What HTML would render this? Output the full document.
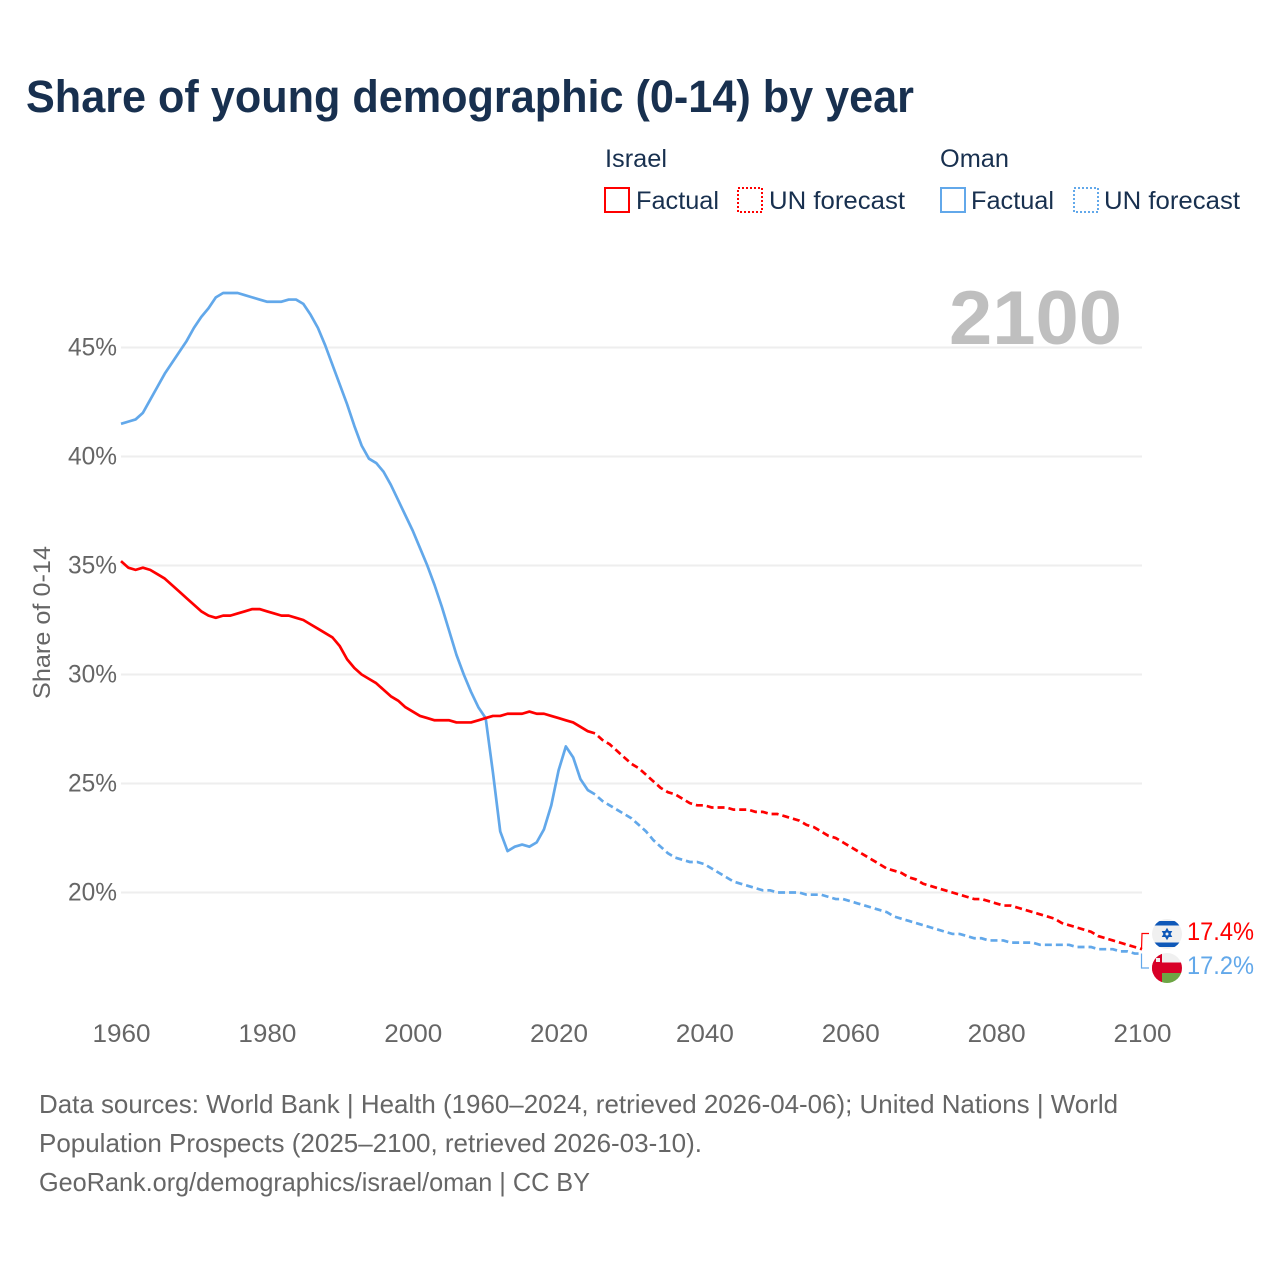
<!DOCTYPE html>
<html lang="en">
<head>
<meta charset="utf-8">
<title>Share of young demographic (0-14) by year</title>
<style>
html,body{margin:0;padding:0;background:#fff}
svg{display:block}
text{font-family:"Liberation Sans",sans-serif}
</style>
</head>
<body>
<svg id="chart" xmlns="http://www.w3.org/2000/svg" width="1280" height="1280" viewBox="0 0 1280 1280">
  <defs>
    <clipPath id="clip-israel"><circle cx="1167" cy="934" r="15"/></clipPath>
    <clipPath id="clip-oman"><circle cx="1167" cy="968" r="15"/></clipPath>
  </defs>
  <rect width="1280" height="1280" fill="#fff"/>
  <text x="26" y="112" font-size="45" font-weight="700" fill="#18304f" textLength="888" lengthAdjust="spacingAndGlyphs">Share of young demographic (0-14) by year</text>

  <text x="605" y="167" font-size="25" fill="#18304f" textLength="62" lengthAdjust="spacingAndGlyphs">Israel</text>
  <text x="940" y="167" font-size="25" fill="#18304f" textLength="69" lengthAdjust="spacingAndGlyphs">Oman</text>

  <g>
    <rect x="605" y="188" width="24" height="24" fill="none" stroke="#ff0000" stroke-width="2"/>
    <text x="636" y="209" font-size="25" fill="#18304f" textLength="83" lengthAdjust="spacingAndGlyphs">Factual</text>
  </g>
  <g>
    <rect x="738" y="188" width="24" height="24" fill="none" stroke="#ff0000" stroke-width="2" stroke-dasharray="2 2"/>
    <text x="769" y="209" font-size="25" fill="#18304f" textLength="136" lengthAdjust="spacingAndGlyphs">UN forecast</text>
  </g>
  <g>
    <rect x="941" y="188" width="24" height="24" fill="none" stroke="#62a8ea" stroke-width="2"/>
    <text x="971" y="209" font-size="25" fill="#18304f" textLength="83" lengthAdjust="spacingAndGlyphs">Factual</text>
  </g>
  <g>
    <rect x="1074" y="188" width="24" height="24" fill="none" stroke="#62a8ea" stroke-width="2" stroke-dasharray="2 2"/>
    <text x="1104" y="209" font-size="25" fill="#18304f" textLength="136" lengthAdjust="spacingAndGlyphs">UN forecast</text>
  </g>

  <g id="grid"></g>
  <g id="yticks"></g>
  <g id="xticks"></g>

  <text x="949" y="344" font-size="76" font-weight="700" fill="#bfbfbf" textLength="173" lengthAdjust="spacingAndGlyphs">2100</text>
  <text transform="translate(50,699) rotate(-90)" font-size="24" fill="#666666" textLength="153" lengthAdjust="spacingAndGlyphs">Share of 0-14</text>

  <g id="series"></g>

  <g id="flag-israel" clip-path="url(#clip-israel)">
    <rect x="1152" y="919" width="30" height="30" fill="#f0f0f0"/>
    <rect x="1152" y="921" width="30" height="4.5" fill="#0f58b8"/>
    <rect x="1152" y="942.5" width="30" height="4.5" fill="#0f58b8"/>
    <path d="M1167 928.6 L1171.6 936.6 L1162.4 936.6 Z M1167 939.4 L1162.4 931.4 L1171.6 931.4 Z" fill="#0f58b8" stroke="#0f58b8" stroke-width="0.8"/>
    <circle cx="1167" cy="934" r="1.5" fill="#f0f0f0"/>
  </g>
  <g id="flag-oman" clip-path="url(#clip-oman)">
    <rect x="1152" y="953" width="30" height="30" fill="#f0f0f0"/>
    <rect x="1152" y="953" width="10" height="30" fill="#d80027"/>
    <rect x="1152" y="962.5" width="30" height="10.5" fill="#d80027"/>
    <rect x="1162" y="973" width="20" height="10" fill="#6da544"/>
    <rect x="1156" y="958" width="4" height="4" fill="#f0f0f0"/>
  </g>
  <g id="end-labels"></g>

  <g font-size="26" fill="#666666">
    <text x="39" y="1113" textLength="1079" lengthAdjust="spacingAndGlyphs">Data sources: World Bank | Health (1960–2024, retrieved 2026-04-06); United Nations | World</text>
    <text x="39" y="1152" textLength="663" lengthAdjust="spacingAndGlyphs">Population Prospects (2025–2100, retrieved 2026-03-10).</text>
    <text x="39" y="1191" textLength="551" lengthAdjust="spacingAndGlyphs">GeoRank.org/demographics/israel/oman | CC BY</text>
  </g>
</svg>
<script>
const firstYear = 1960;
const lastFactualYear = 2025;
const xTickYears = [1960, 1980, 2000, 2020, 2040, 2060, 2080, 2100];
const yTickValues = [20, 25, 30, 35, 40, 45];
const israelValues = [
  35.2,34.9,34.8,34.9,34.8,34.6,34.4,34.1,33.8,33.5,
  33.2,32.9,32.7,32.6,32.7,32.7,32.8,32.9,33.0,33.0,
  32.9,32.8,32.7,32.7,32.6,32.5,32.3,32.1,31.9,31.7,
  31.3,30.7,30.3,30.0,29.8,29.6,29.3,29.0,28.8,28.5,
  28.3,28.1,28.0,27.9,27.9,27.9,27.8,27.8,27.8,27.9,
  28.0,28.1,28.1,28.2,28.2,28.2,28.3,28.2,28.2,28.1,
  28.0,27.9,27.8,27.6,27.4,27.3,
  27.0,26.8,26.5,26.2,25.9,25.7,25.4,25.1,24.8,24.6,
  24.5,24.3,24.1,24.0,24.0,23.9,23.9,23.9,23.8,23.8,
  23.8,23.7,23.7,23.6,23.6,23.5,23.4,23.3,23.1,23.0,
  22.8,22.6,22.5,22.3,22.1,21.9,21.7,21.5,21.3,21.1,
  21.0,20.9,20.7,20.6,20.4,20.3,20.2,20.1,20.0,19.9,
  19.8,19.7,19.7,19.6,19.5,19.4,19.4,19.3,19.2,19.1,
  19.0,18.9,18.8,18.6,18.5,18.4,18.3,18.2,18.0,17.9,
  17.8,17.7,17.6,17.5,17.4
];
const omanValues = [
  41.5,41.6,41.7,42.0,42.6,43.2,43.8,44.3,44.8,45.3,
  45.9,46.4,46.8,47.3,47.5,47.5,47.5,47.4,47.3,47.2,
  47.1,47.1,47.1,47.2,47.2,47.0,46.5,45.9,45.1,44.2,
  43.3,42.4,41.4,40.5,39.9,39.7,39.3,38.7,38.0,37.3,
  36.6,35.8,35.0,34.1,33.1,32.0,30.9,30.0,29.2,28.5,
  28.0,25.5,22.8,21.9,22.1,22.2,22.1,22.3,22.9,24.0,
  25.6,26.7,26.2,25.2,24.7,24.5,
  24.2,24.0,23.8,23.6,23.4,23.1,22.8,22.4,22.1,21.8,
  21.6,21.5,21.4,21.4,21.3,21.1,20.9,20.7,20.5,20.4,
  20.3,20.2,20.1,20.1,20.0,20.0,20.0,20.0,19.9,19.9,
  19.9,19.8,19.7,19.7,19.6,19.5,19.4,19.3,19.2,19.1,
  18.9,18.8,18.7,18.6,18.5,18.4,18.3,18.2,18.1,18.1,
  18.0,17.9,17.9,17.8,17.8,17.8,17.7,17.7,17.7,17.7,
  17.6,17.6,17.6,17.6,17.6,17.5,17.5,17.5,17.4,17.4,
  17.4,17.3,17.3,17.2,17.2
];
const endLabels = ["17.4%", "17.2%"];

const NS = "http://www.w3.org/2000/svg";
const RED = "#ff0000";
const BLUE = "#62a8ea";

function xScale(year) {
  return 121 + (year - 1960) * (1142 - 121) / 140;
}
function yScale(value) {
  return 892.5 - (value - 20) * (892.5 - 347.5) / 25;
}
function make(tag, attrs, parent, content) {
  const el = document.createElementNS(NS, tag);
  for (const key in attrs) el.setAttribute(key, attrs[key]);
  if (content !== undefined) el.textContent = content;
  parent.appendChild(el);
  return el;
}
function pathFor(values, startIndex, endIndex) {
  let d = "";
  for (let i = startIndex; i <= endIndex && i < values.length; i++) {
    d += (d ? "L" : "M") + xScale(firstYear + i).toFixed(2) + " " + yScale(values[i]).toFixed(2);
  }
  return d;
}

const gridGroup = document.getElementById("grid");
const yTickGroup = document.getElementById("yticks");
const xTickGroup = document.getElementById("xticks");
const seriesGroup = document.getElementById("series");
const endGroup = document.getElementById("end-labels");

yTickValues.forEach(function (v) {
  const line = make("line", { x1: 121, x2: 1142, y1: yScale(v), y2: yScale(v), stroke: "#eeeeee", "stroke-width": 2 }, gridGroup);
  
  
  const label = make("text", { x: 117, y: yScale(v) + 8, "font-size": 25, fill: "#666666", "text-anchor": "end", textLength: 49, lengthAdjust: "spacingAndGlyphs" }, yTickGroup, v + "%");
  
  
});

xTickYears.forEach(function (year) {
  const label = make("text", { x: xScale(year) + 0.5, y: 1042, "font-size": 25, fill: "#666666", "text-anchor": "middle", textLength: 58, lengthAdjust: "spacingAndGlyphs" }, xTickGroup, String(year));
  
  
});

const factualEnd = lastFactualYear - firstYear;

const omanFactual = make("path", { d: pathFor(omanValues, 0, factualEnd), fill: "none", stroke: BLUE, "stroke-width": 2.7, "stroke-linejoin": "round" }, seriesGroup);



const omanForecast = make("path", { d: pathFor(omanValues, factualEnd, omanValues.length - 1), fill: "none", stroke: BLUE, "stroke-width": 2.7, "stroke-dasharray": "7 4", "stroke-dashoffset": 7 }, seriesGroup);



const israelFactual = make("path", { d: pathFor(israelValues, 0, factualEnd), fill: "none", stroke: RED, "stroke-width": 2.7, "stroke-linejoin": "round" }, seriesGroup);



const israelForecast = make("path", { d: pathFor(israelValues, factualEnd, israelValues.length - 1), fill: "none", stroke: RED, "stroke-width": 2.7, "stroke-dasharray": "7 4", "stroke-dashoffset": 7 }, seriesGroup);



const israelEndY = yScale(israelValues[israelValues.length - 1]);
const omanEndY = yScale(omanValues[omanValues.length - 1]);

const israelLeader = make("path", { d: "M1141.5 " + israelEndY.toFixed(1) + "L1142 933.5L1149 933.5", fill: "none", stroke: RED, "stroke-width": 1.2 }, endGroup);



const omanLeader = make("path", { d: "M1141.5 " + omanEndY.toFixed(1) + "L1141.5 968L1149 968", fill: "none", stroke: BLUE, "stroke-width": 1.2 }, endGroup);



const israelEndLabel = make("text", { x: 1187, y: 940, "font-size": 25, fill: RED, textLength: 67, lengthAdjust: "spacingAndGlyphs" }, endGroup, endLabels[0]);



const omanEndLabel = make("text", { x: 1187, y: 974, "font-size": 25, fill: BLUE, textLength: 67, lengthAdjust: "spacingAndGlyphs" }, endGroup, endLabels[1]);


</script>
</body>
</html>
